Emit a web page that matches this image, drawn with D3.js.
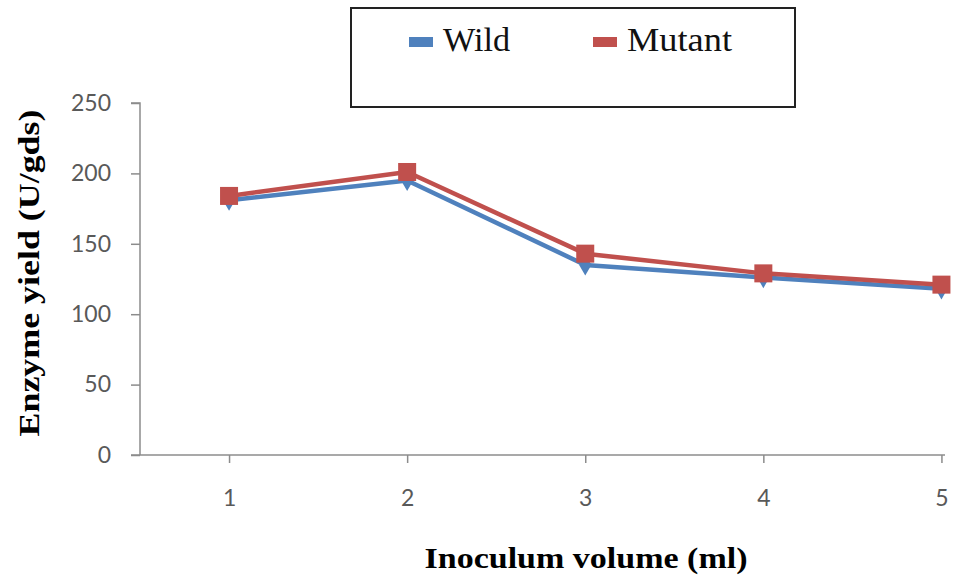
<!DOCTYPE html>
<html>
<head>
<meta charset="utf-8">
<script src="https://cdn.jsdelivr.net/npm/d3@7"></script>
<style>
  body { margin: 0; background: #fff; }
  svg { display: block; }
</style>
</head>
<body>
<svg id="chart" width="955" height="583"></svg>
<script>
// Inoculum volume (ml) and enzyme yield (U/gds) per strain
const volumes = [1, 2, 3, 4, 5];
const wild = [181, 195, 135, 126, 118];
const mutant = [184, 201, 143, 129, 121];
const yTicks = [0, 50, 100, 150, 200, 250];
const seriesNames = ["Wild", "Mutant"];
const seriesColors = ["#4F81BD", "#C0504D"];

const svg = d3.select("#chart");
const labelFont = "Lato, 'Open Sans', sans-serif";
const titleFont = "'Liberation Serif', 'Times New Roman', serif";

const x = d3.scaleLinear().domain([0.5, 5.02]).range([140, 945]);
const y = d3.scaleLinear().domain([0, 250]).range([455, 103]);

// y axis
const yAxis = svg.append("g")
  .attr("transform", "translate(140,0)")
  .call(d3.axisLeft(y).tickValues(yTicks).tickSize(9).tickPadding(20));
yAxis.select(".domain").attr("stroke", "#8c8c8c").attr("stroke-width", 1.5)
  .attr("d", `M-9,${y(250)}H0V${y(0)}`);
yAxis.selectAll(".tick line").attr("stroke", "#8c8c8c").attr("stroke-width", 1.5);
yAxis.selectAll(".tick text").attr("font-family", labelFont).attr("font-size", 23)
  .attr("fill", "#595959");

// x axis
const xAxis = svg.append("g")
  .attr("transform", `translate(0,${y(0)})`)
  .call(d3.axisBottom(x).tickValues(volumes).tickFormat(d3.format("d")).tickSize(8).tickPadding(27));
xAxis.select(".domain").attr("stroke", "#8c8c8c").attr("stroke-width", 1.5)
  .attr("d", `M131,0H945`);
xAxis.selectAll(".tick line").attr("stroke", "#8c8c8c").attr("stroke-width", 1.5);
xAxis.selectAll(".tick text").attr("font-family", labelFont).attr("font-size", 23)
  .attr("fill", "#595959");

// axis titles
svg.append("text")
  .attr("x", 586).attr("y", 568)
  .attr("text-anchor", "middle")
  .attr("font-family", titleFont).attr("font-weight", "bold").attr("font-size", 30)
  .attr("textLength", 323).attr("lengthAdjust", "spacingAndGlyphs")
  .text("Inoculum volume (ml)");

svg.append("text")
  .attr("transform", "translate(39,273) rotate(-90)")
  .attr("text-anchor", "middle")
  .attr("font-family", titleFont).attr("font-weight", "bold").attr("font-size", 30)
  .attr("textLength", 327).attr("lengthAdjust", "spacingAndGlyphs")
  .text("Enzyme  yield (U/gds)");

// lines and markers
const line = d3.line().x((d, i) => x(volumes[i])).y(d => y(d));

svg.append("path").datum(wild)
  .attr("fill", "none").attr("stroke", seriesColors[0]).attr("stroke-width", 4.5)
  .attr("stroke-linejoin", "round").attr("d", line);
svg.selectAll(".wild-pt").data(wild).enter().append("path")
  .attr("class", "wild-pt")
  .attr("transform", (d, i) => `translate(${x(volumes[i])},${y(d)})`)
  .attr("d", d3.symbol(d3.symbolDiamond, 130))
  .attr("fill", seriesColors[0]);

svg.append("path").datum(mutant)
  .attr("fill", "none").attr("stroke", seriesColors[1]).attr("stroke-width", 4.5)
  .attr("stroke-linejoin", "round").attr("d", line);
svg.selectAll(".mut-pt").data(mutant).enter().append("rect")
  .attr("class", "mut-pt")
  .attr("x", (d, i) => x(volumes[i]) - 9)
  .attr("y", d => y(d) - 9)
  .attr("width", 18).attr("height", 18)
  .attr("fill", seriesColors[1]);

// legend
const legend = svg.append("g");
legend.append("rect")
  .attr("x", 351).attr("y", 8).attr("width", 444).attr("height", 99)
  .attr("fill", "#fff").attr("stroke", "#222").attr("stroke-width", 2);
const legendX = [409, 593];
const legendTextWidth = [67, 105];
seriesNames.forEach((name, i) => {
  legend.append("rect")
    .attr("x", legendX[i]).attr("y", 37).attr("width", 24).attr("height", 10)
    .attr("fill", seriesColors[i]);
  legend.append("text")
    .attr("x", legendX[i] + 34).attr("y", 51)
    .attr("font-family", titleFont).attr("font-size", 33).attr("fill", "#111")
    .attr("textLength", legendTextWidth[i]).attr("lengthAdjust", "spacingAndGlyphs")
    .text(name);
});
</script>
</body>
</html>
